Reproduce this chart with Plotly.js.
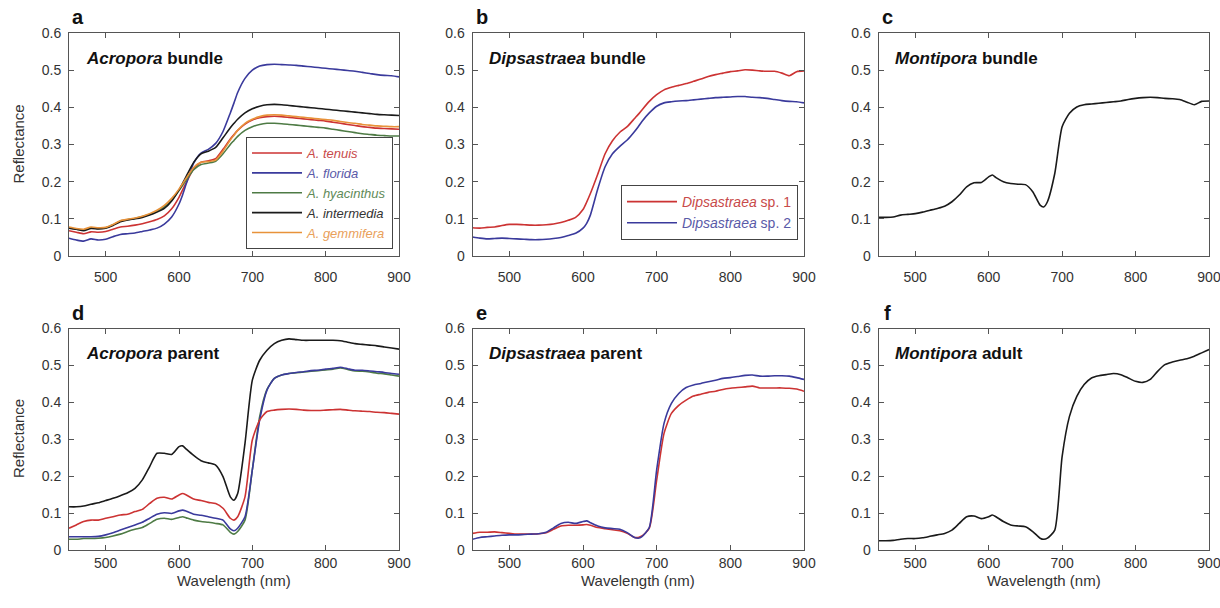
<!DOCTYPE html>
<html>
<head>
<meta charset="utf-8">
<script src="https://cdn.plot.ly/plotly-3.0.1.min.js"></script>
<style>html,body{margin:0;padding:0;background:#fff;overflow:hidden;}#chart{width:1220px;height:608px;}</style>
</head>
<body>
<div id="chart"></div>
<script>
// Wavelength grid (nm)
const wavelength = [450,460,470,480,490,500,510,520,530,540,550,560,570,580,590,600,605,610,620,630,640,650,660,670,675,680,690,700,710,720,730,740,750,760,770,780,790,800,810,820,830,840,850,860,870,880,890,900];

// Panel a: Acropora bundle
const aTenuis     = [.068,.064,.060,.065,.064,.066,.072,.078,.080,.083,.087,.092,.098,.108,.127,.158,.178,.198,.235,.252,.256,.262,.287,.315,.327,.338,.355,.366,.372,.375,.376,.375,.373,.371,.369,.367,.365,.363,.360,.357,.354,.351,.348,.346,.344,.343,.342,.341];
const aFlorida    = [.048,.043,.040,.046,.043,.045,.052,.058,.060,.062,.066,.070,.075,.086,.105,.140,.165,.195,.250,.277,.287,.303,.335,.385,.412,.440,.478,.500,.511,.515,.516,.515,.514,.513,.511,.509,.507,.505,.503,.501,.499,.497,.494,.491,.488,.486,.485,.482];
const aHyacinthus = [.076,.072,.070,.076,.074,.076,.084,.094,.098,.101,.106,.112,.120,.132,.150,.176,.190,.205,.232,.246,.250,.255,.275,.300,.311,.322,.338,.348,.354,.357,.357,.356,.354,.352,.350,.348,.346,.344,.341,.338,.335,.332,.329,.327,.325,.324,.323,.323];
const aIntermedia = [.075,.072,.068,.074,.073,.075,.082,.092,.097,.100,.104,.110,.118,.128,.148,.178,.196,.215,.252,.275,.282,.292,.318,.345,.357,.368,.385,.396,.403,.407,.408,.407,.405,.403,.401,.399,.397,.395,.393,.391,.389,.387,.385,.383,.381,.380,.379,.378];
const aGemmifera  = [.078,.074,.072,.078,.076,.077,.085,.095,.099,.102,.107,.114,.123,.136,.155,.180,.195,.210,.238,.252,.254,.258,.282,.312,.325,.338,.357,.368,.375,.379,.380,.379,.377,.375,.373,.371,.369,.367,.365,.362,.359,.357,.354,.352,.350,.349,.348,.348];

// Panel b: Dipsastraea bundle
const bSp1 = [.076,.075,.077,.078,.082,.085,.085,.084,.083,.083,.084,.086,.090,.096,.104,.125,.145,.168,.220,.275,.310,.333,.348,.370,.381,.393,.416,.434,.447,.454,.459,.464,.470,.476,.483,.488,.492,.496,.498,.501,.500,.498,.497,.497,.492,.485,.496,.498];
const bSp2 = [.051,.048,.046,.047,.048,.047,.046,.045,.044,.044,.045,.047,.050,.055,.061,.075,.088,.110,.180,.240,.275,.295,.312,.335,.348,.362,.385,.403,.412,.415,.417,.418,.420,.422,.424,.426,.427,.428,.429,.429,.427,.426,.424,.421,.418,.416,.415,.412];

// Panel c: Montipora bundle
const cMontipora = [.104,.104,.105,.110,.112,.114,.118,.123,.128,.134,.146,.164,.186,.197,.198,.213,.218,.211,.200,.195,.193,.192,.173,.137,.132,.146,.222,.348,.384,.401,.407,.409,.411,.413,.415,.417,.421,.424,.426,.427,.426,.424,.423,.421,.414,.407,.416,.417];

// Panel d: Acropora parent
const dBlack = [.117,.117,.119,.124,.128,.134,.140,.147,.155,.167,.190,.226,.262,.262,.259,.280,.282,.273,.256,.242,.236,.230,.199,.144,.135,.153,.289,.460,.514,.541,.559,.568,.572,.570,.568,.568,.568,.568,.568,.567,.563,.559,.557,.555,.553,.550,.547,.544];
const dRed   = [.059,.068,.077,.081,.081,.086,.090,.095,.097,.104,.110,.126,.140,.143,.138,.149,.153,.149,.138,.134,.129,.126,.113,.086,.081,.090,.144,.298,.352,.375,.379,.381,.382,.381,.379,.378,.378,.379,.380,.381,.379,.377,.376,.375,.373,.372,.370,.368];
const dBlue  = [.036,.036,.036,.036,.037,.041,.047,.054,.061,.068,.075,.086,.097,.101,.099,.106,.108,.105,.097,.094,.090,.086,.081,.057,.052,.059,.090,.217,.352,.433,.465,.474,.478,.481,.483,.486,.487,.490,.492,.495,.491,.487,.487,.485,.483,.481,.478,.476];
const dGreen = [.029,.029,.031,.031,.032,.034,.038,.043,.050,.056,.061,.072,.083,.086,.083,.088,.090,.087,.081,.077,.075,.072,.068,.048,.043,.050,.081,.217,.361,.435,.465,.474,.478,.480,.482,.484,.486,.488,.490,.493,.489,.485,.484,.482,.479,.477,.474,.471];

// Panel e: Dipsastraea parent
const eRed  = [.045,.048,.048,.049,.047,.045,.043,.043,.043,.044,.047,.056,.065,.067,.067,.068,.069,.067,.061,.058,.055,.052,.045,.034,.034,.038,.059,.189,.316,.370,.392,.406,.417,.422,.427,.430,.435,.438,.440,.442,.444,.439,.439,.439,.439,.438,.436,.430];
const eBlue = [.029,.034,.036,.038,.040,.041,.041,.042,.043,.044,.048,.060,.072,.075,.072,.077,.079,.074,.065,.060,.058,.056,.047,.034,.032,.036,.061,.217,.343,.397,.424,.440,.447,.451,.456,.460,.465,.467,.470,.473,.474,.471,.471,.472,.472,.471,.467,.462];

// Panel f: Montipora adult
const fMontipora = [.025,.025,.026,.029,.031,.031,.033,.037,.041,.045,.054,.072,.090,.092,.085,.090,.095,.090,.077,.068,.065,.063,.050,.032,.029,.032,.054,.253,.362,.416,.448,.466,.472,.475,.478,.475,.466,.457,.454,.462,.484,.502,.509,.514,.518,.525,.534,.543];

const panelLetters = ['a','b','c','d','e','f'];
const panelNames = ['<i>Acropora</i> bundle','<i>Dipsastraea</i> bundle','<i>Montipora</i> bundle','<i>Acropora</i> parent','<i>Dipsastraea</i> parent','<i>Montipora</i> adult'];
const yTickVals = [0,0.1,0.2,0.3,0.4,0.5,0.6];
const yTickText = ['0','0.1','0.2','0.3','0.4','0.5','0.6'];
const xTickVals = [500,600,700,800,900];

const RED='#cc3333', BLUE='#3a3a9c', GREEN='#4e7b45', BLACK='#1a1a1a', ORANGE='#e8923a';
const lw = 1.6;
function tr(y, color, xa, ya, name, legend, show){
  return {x: wavelength, y: y, type:'scatter', mode:'lines', name: name||'',
    line:{color:color, width:lw, shape:'spline', smoothing:0.6},
    xaxis:xa, yaxis:ya, showlegend: !!show, legend: legend||'legend', hoverinfo:'skip'};
}
const lbl = (txt, col) => '<span style="color:'+col+'">'+txt+'</span>';
const data = [
  tr(aTenuis, RED, 'x','y', lbl('<i>A. tenuis</i>','#c84a4a'), 'legend', true),
  tr(aFlorida, BLUE, 'x','y', lbl('<i>A. florida</i>','#5a5aa8'), 'legend', true),
  tr(aHyacinthus, GREEN, 'x','y', lbl('<i>A. hyacinthus</i>','#5f8a58'), 'legend', true),
  tr(aIntermedia, BLACK, 'x','y', lbl('<i>A. intermedia</i>','#333'), 'legend', true),
  tr(aGemmifera, ORANGE, 'x','y', lbl('<i>A. gemmifera</i>','#e9a05a'), 'legend', true),
  tr(bSp1, RED, 'x2','y2', lbl('<i>Dipsastraea</i> sp. 1','#c84a4a'), 'legend2', true),
  tr(bSp2, BLUE, 'x2','y2', lbl('<i>Dipsastraea</i> sp. 2','#5a5aa8'), 'legend2', true),
  tr(cMontipora, BLACK, 'x3','y3'),
  tr(dGreen, GREEN, 'x4','y4'),
  tr(dBlue, BLUE, 'x4','y4'),
  tr(dRed, RED, 'x4','y4'),
  tr(dBlack, BLACK, 'x4','y4'),
  tr(eRed, RED, 'x5','y5'),
  tr(eBlue, BLUE, 'x5','y5'),
  tr(fMontipora, BLACK, 'x6','y6')
];

const W=1220, H=608;
const xDom = [[69/W, 399/W],[472.5/W, 804/W],[878.5/W, 1209/W]];
const yDom = [[1-256/H, 1-33/H],[1-550/H, 1-328.5/H]];
const FONT = 'Liberation Sans, Arial, Helvetica, sans-serif';

const legendStyle = {bgcolor:'#fff', bordercolor:'#444', borderwidth:1, tracegroupgap:0, itemwidth:50};
const layout = {
  width: W, height: H,
  margin:{l:0,r:0,t:0,b:0},
  paper_bgcolor:'#fff', plot_bgcolor:'#fff',
  font:{family:FONT, color:'#333', size:14},
  showlegend:true,
  legend:Object.assign({x:393/W, xanchor:'right', y:1-249/H, yanchor:'bottom', font:{family:FONT,size:13}}, legendStyle),
  legend2:Object.assign({x:798/W, xanchor:'right', y:1-240/H, yanchor:'bottom', font:{family:FONT,size:14}}, legendStyle),
  annotations:[]
};
for (let i=0;i<6;i++){
  const r = Math.floor(i/3), c = i%3;
  const s = i===0 ? '' : String(i+1);
  layout['xaxis'+s] = {domain:xDom[c], anchor:'y'+s, range:[450,900], tickvals:xTickVals, ticks:'inside', ticklen:5, tickcolor:'#555',
    showline:true, linecolor:'#555', linewidth:1, mirror:'ticks', showgrid:false, zeroline:false, tickfont:{family:FONT,size:14,color:'#333'},
    ticklabelstandoff: r===0 ? 8 : 0, ticklabeloverflow:'allow'};
  layout['yaxis'+s] = {domain:yDom[r], anchor:'x'+s, range:[0,0.6], tickvals:yTickVals, ticktext:yTickText, ticks:'inside', ticklen:5, tickcolor:'#555',
    showline:true, linecolor:'#555', linewidth:1, mirror:'ticks', showgrid:false, zeroline:false, tickfont:{family:FONT,size:14,color:'#333'}, ticklabelstandoff:4};
  const xr = (xDom[c][0]), yr = yDom[r][1];
  layout.annotations.push({xref:'paper', yref:'paper', x:xr + 9/W, y:yr + 16/H, xanchor:'center', yanchor:'middle', text:'<b>'+panelLetters[i]+'</b>', showarrow:false, font:{family:FONT,size:20,color:'#111'}});
  layout.annotations.push({xref:'x'+s+' domain', yref:'y'+s+' domain', x:0.045, y:0.885, xanchor:'left', yanchor:'middle', text:'<b>'+panelNames[i]+'</b>', showarrow:false, font:{family:FONT,size:17,color:'#111'}});
}
layout.annotations.push({xref:'paper', yref:'paper', x:18/W, y:1-144.5/H, text:'Reflectance', textangle:-90, showarrow:false, font:{family:FONT,size:15,color:'#333'}, xanchor:'center', yanchor:'middle'});
layout.annotations.push({xref:'paper', yref:'paper', x:18/W, y:1-439/H, text:'Reflectance', textangle:-90, showarrow:false, font:{family:FONT,size:15,color:'#333'}, xanchor:'center', yanchor:'middle'});
for (let c=0;c<3;c++){
  layout.annotations.push({xref:'paper', yref:'paper', x:(xDom[c][0]+xDom[c][1])/2, y:1-580/H, text:'Wavelength (nm)', showarrow:false, font:{family:FONT,size:15,color:'#333'}, xanchor:'center', yanchor:'middle'});
}

Plotly.newPlot('chart', data, layout, {staticPlot:true, displayModeBar:false});
</script>
</body>
</html>
